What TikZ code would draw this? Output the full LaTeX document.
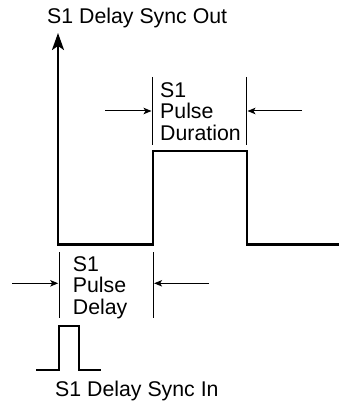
\documentclass[tikz,border=0pt]{standalone}
\usepackage{fontspec}
\setmainfont{Liberation Sans}
\usetikzlibrary{arrows.meta}
\begin{document}
\begin{tikzpicture}[x=1pt,y=-1pt,
  wave/.style={line width=2.3pt, line join=miter},
  marker/.style={line width=1pt},
  dimarrow/.style={line width=1pt, -{Stealth[length=8pt,width=6.5pt,inset=2pt]}},
  lbl/.style={inner sep=0pt, anchor=base west, align=left, font=\fontsize{21.3}{21.4}\selectfont}]
\useasboundingbox (0,0) rectangle (339,406);
% labels (multi-line labels anchored at the baseline of their last line)
\node[lbl] (outlbl) at (47,24) {S1 Delay Sync Out};
\node[lbl] (durlbl) at (160,140) {S1\\Pulse\\Duration};
\node[lbl] (dellbl) at (72.7,314.3) {S1\\Pulse\\Delay};
\node[lbl] (inlbl) at (55,396.7) {S1 Delay Sync In};
% output waveform with axis arrow
\coordinate (axtop) at (58,33);
\coordinate (w1) at (58,244.5);
\coordinate (w2) at (153,244.5);
\coordinate (w3) at (153,151);
\coordinate (w4) at (247,151);
\coordinate (w5) at (247,244.5);
\coordinate (w6) at (340,244.5);
\draw[wave, {Stealth[length=17pt,width=12pt,inset=4pt]}-] (axtop) -- (w1) -- (w2) -- (w3) -- (w4) -- (w5) -- (w6);
% duration markers
\coordinate (d1t) at (152.3,77);
\coordinate (d1b) at (152.3,145);
\coordinate (d2t) at (246.7,77);
\coordinate (d2b) at (246.7,145);
\draw[marker] (d1t) -- (d1b);
\draw[marker] (d2t) -- (d2b);
\coordinate (da1s) at (105,111);
\coordinate (da1e) at (151.5,111);
\coordinate (da2s) at (302,111);
\coordinate (da2e) at (247.5,111);
\draw[dimarrow] (da1s) -- (da1e);
\draw[dimarrow] (da2s) -- (da2e);
% delay markers
\coordinate (p1t) at (59,252);
\coordinate (p1b) at (59,318);
\coordinate (p2t) at (153.3,252);
\coordinate (p2b) at (153.3,318);
\draw[marker] (p1t) -- (p1b);
\draw[marker] (p2t) -- (p2b);
\coordinate (pa1s) at (12,283.3);
\coordinate (pa1e) at (58.2,283.3);
\coordinate (pa2s) at (209,283.3);
\coordinate (pa2e) at (154.1,283.3);
\draw[dimarrow] (pa1s) -- (pa1e);
\draw[dimarrow] (pa2s) -- (pa2e);
% input pulse
\coordinate (i1) at (36,370);
\coordinate (i2) at (59,370);
\coordinate (i3) at (59,326);
\coordinate (i4) at (79.3,326);
\coordinate (i5) at (79.3,370);
\coordinate (i6) at (100.7,370);
\draw[wave] (i1) -- (i2) -- (i3) -- (i4) -- (i5) -- (i6);
\end{tikzpicture}
\end{document}
